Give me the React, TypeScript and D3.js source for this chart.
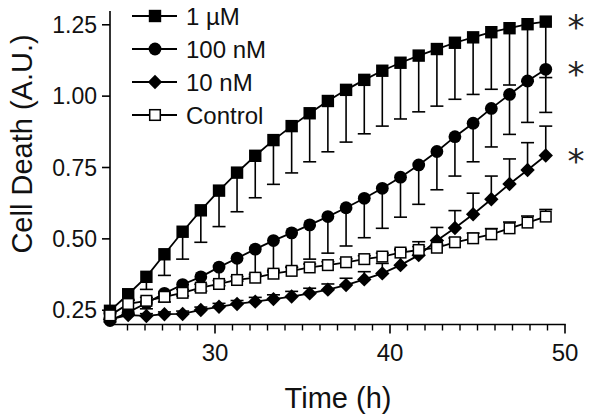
import React from 'react';
import * as d3 from 'd3';

const times = [24.0, 25.04, 26.08, 27.11, 28.15, 29.19, 30.23, 31.26, 32.3, 33.34, 34.38, 35.41, 36.45, 37.49, 38.53, 39.56, 40.6, 41.64, 42.68, 43.71, 44.75, 45.79, 46.83, 47.86, 48.9];

const oneMicroM = [0.248, 0.306, 0.367, 0.446, 0.525, 0.6, 0.669, 0.732, 0.791, 0.846, 0.895, 0.94, 0.983, 1.022, 1.057, 1.089, 1.117, 1.142, 1.165, 1.187, 1.206, 1.224, 1.238, 1.252, 1.261];
const oneMicroMErr = [0.01, 0.02, 0.044, 0.074, 0.096, 0.112, 0.126, 0.137, 0.147, 0.155, 0.164, 0.17, 0.178, 0.183, 0.189, 0.194, 0.197, 0.197, 0.2, 0.198, 0.2, 0.2, 0.199, 0.2, 0.196];

const hundredNM = [0.214, 0.243, 0.275, 0.309, 0.34, 0.367, 0.401, 0.432, 0.464, 0.494, 0.521, 0.549, 0.578, 0.609, 0.642, 0.677, 0.716, 0.759, 0.806, 0.858, 0.905, 0.957, 1.006, 1.053, 1.094];
const hundredNMErr = [0.005, 0.01, 0.02, 0.03, 0.04, 0.05, 0.065, 0.08, 0.095, 0.11, 0.12, 0.12, 0.128, 0.134, 0.138, 0.14, 0.14, 0.138, 0.134, 0.138, 0.135, 0.135, 0.14, 0.145, 0.151];

const tenNM = [0.218, 0.233, 0.23, 0.236, 0.237, 0.251, 0.262, 0.272, 0.28, 0.289, 0.298, 0.309, 0.322, 0.338, 0.358, 0.379, 0.408, 0.443, 0.494, 0.538, 0.586, 0.639, 0.692, 0.741, 0.792];
const tenNMErr = [0.005, 0.005, 0.008, 0.008, 0.01, 0.01, 0.012, 0.012, 0.015, 0.015, 0.018, 0.018, 0.02, 0.024, 0.027, 0.035, 0.053, 0.047, 0.046, 0.061, 0.074, 0.081, 0.088, 0.096, 0.103];

const control = [0.232, 0.272, 0.283, 0.297, 0.311, 0.329, 0.342, 0.356, 0.364, 0.378, 0.388, 0.4, 0.408, 0.418, 0.429, 0.438, 0.452, 0.461, 0.469, 0.488, 0.502, 0.516, 0.537, 0.557, 0.578];
const controlErr = [0.012, 0.012, 0.012, 0.012, 0.012, 0.012, 0.012, 0.012, 0.012, 0.012, 0.012, 0.012, 0.012, 0.012, 0.012, 0.012, 0.012, 0.012, 0.012, 0.015, 0.018, 0.02, 0.022, 0.023, 0.025];

const seriesNames = ['1 µM', '100 nM', '10 nM', 'Control'];
const seriesMarkers = ['square', 'circle', 'diamond', 'openSquare'];
const errDirections = [-1, -1, 1, 1];
const significance = ['*', '*', '*', ''];

const xMajorTicks = [30, 40, 50];
const xMinorTicks = [25, 26, 27, 28, 29, 31, 32, 33, 34, 35, 36, 37, 38, 39, 41, 42, 43, 44, 45, 46, 47, 48, 49];
const yTicks = [0.25, 0.5, 0.75, 1.0, 1.25];

const FONT = '"Liberation Sans", Arial, sans-serif';

function Marker({ kind, cx, cy }: { kind: string; cx: number; cy: number }) {
  if (kind === 'square') return <rect x={cx - 6.2} y={cy - 6.2} width={12.4} height={12.4} fill="#000" />;
  if (kind === 'circle') return <circle cx={cx} cy={cy} r={6.4} fill="#000" />;
  if (kind === 'diamond') {
    const r = 7.2;
    return <path d={`M${cx},${cy - r}L${cx + r},${cy}L${cx},${cy + r}L${cx - r},${cy}Z`} fill="#000" />;
  }
  return <rect x={cx - 5.3} y={cy - 5.3} width={10.6} height={10.6} fill="#fff" stroke="#000" strokeWidth={1.5} />;
}

export default function App() {
  const W = 600, H = 417;
  const x = d3.scaleLinear().domain([24, 50]).range([110, 565]);
  const y = d3.scaleLinear().domain([0.2, 1.3]).range([324.5, 10.5]);
  const values = [oneMicroM, hundredNM, tenNM, control];
  const errs = [oneMicroMErr, hundredNMErr, tenNMErr, controlErr];
  const line = d3.line<number>().x((_, i) => x(times[i])).y(d => y(d));
  const fmt = d3.format('.2f');
  const axisY = 324.5;

  return (
    <svg width={W} height={H} style={{ position: 'absolute', left: 0, top: 0, background: '#fff' }} fontFamily={FONT}>
      <rect width={W} height={H} fill="#fff" />
      {/* axes */}
      <line x1={110} x2={110} y1={11} y2={axisY} stroke="#000" strokeWidth={1.6} />
      <line x1={110} x2={x(50) + 0.8} y1={axisY} y2={axisY} stroke="#000" strokeWidth={1.6} />
      {yTicks.map(t => (
        <g key={t}>
          <line x1={102} x2={110} y1={y(t)} y2={y(t)} stroke="#000" strokeWidth={1.6} />
          <text x={97} y={y(t) + 8} textAnchor="end" fontSize={23} fill="#111">{fmt(t)}</text>
        </g>
      ))}
      {xMinorTicks.map(t => (
        <line key={t} x1={x(t)} x2={x(t)} y1={axisY} y2={axisY + 6} stroke="#000" strokeWidth={1.4} />
      ))}
      {xMajorTicks.map(t => (
        <g key={t}>
          <line x1={x(t)} x2={x(t)} y1={axisY} y2={axisY + 9} stroke="#000" strokeWidth={1.6} />
          <text x={x(t)} y={361} textAnchor="middle" fontSize={24} fill="#111">{t}</text>
        </g>
      ))}
      <text x={338} y={408} textAnchor="middle" fontSize={29} fill="#111">Time (h)</text>
      <text transform={`translate(32,144) rotate(-90)`} textAnchor="middle" fontSize={29} fill="#111">Cell Death (A.U.)</text>

      {/* error bars */}
      {values.map((vals, s) => (
        <g key={'e' + s}>
          {vals.map((v, i) => {
            const end = v + errDirections[s] * errs[s][i];
            const px = x(times[i]);
            return (
              <g key={i}>
                <line x1={px} x2={px} y1={y(v)} y2={y(end)} stroke="#000" strokeWidth={1.6} />
                <line x1={px - 6.5} x2={px + 6.5} y1={y(end)} y2={y(end)} stroke="#000" strokeWidth={1.6} />
              </g>
            );
          })}
        </g>
      ))}

      {/* series */}
      {values.map((vals, s) => (
        <g key={'s' + s}>
          <path d={line(vals) || ''} fill="none" stroke="#000" strokeWidth={1.8} />
          {vals.map((v, i) => (
            <Marker key={i} kind={seriesMarkers[s]} cx={x(times[i])} cy={y(v)} />
          ))}
        </g>
      ))}

      {/* significance */}
      {values.map((vals, s) => significance[s] ? (
        <text key={'sig' + s} x={576} y={y(vals[vals.length - 1]) + 17} textAnchor="middle" fontSize={34} fontFamily='"DejaVu Sans", sans-serif' fill="#222">{significance[s]}</text>
      ) : null)}

      {/* legend */}
      {seriesNames.map((name, s) => {
        const ly = 16 + s * 33;
        return (
          <g key={'l' + s}>
            <line x1={132} x2={177} y1={ly} y2={ly} stroke="#000" strokeWidth={1.8} />
            <Marker kind={seriesMarkers[s]} cx={155} cy={ly} />
            <text x={186} y={ly + 8.5} fontSize={24} fill="#111">{name}</text>
          </g>
        );
      })}
    </svg>
  );
}
